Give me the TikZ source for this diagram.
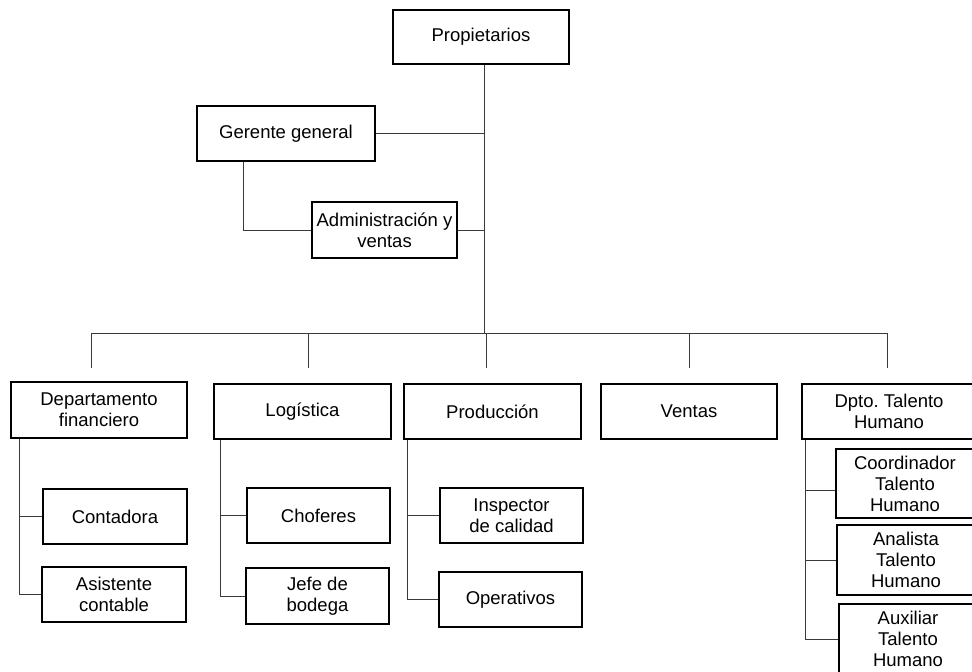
\documentclass[tikz,border=0pt]{standalone}
\usepackage{fontspec}
\setmainfont{Liberation Sans}
\usepackage{xcolor}
\usetikzlibrary{calc, positioning}
\definecolor{linegray}{HTML}{3A3A3A}
\newcommand{\boxfont}{\fontsize{18.5}{21}\selectfont}
\tikzset{
  unitbox/.style={draw, line width=1.4pt, inner sep=0pt, align=center, font=\boxfont},
  link/.style={draw=linegray, line width=1pt}
}

\begin{document}
\begin{tikzpicture}[x=1pt, y=-1pt]
                                \useasboundingbox (0,0) rectangle (972,672);
                                \clip (0,0) rectangle (972,672);

                                \node[unitbox, minimum width=176, minimum height=54] (prop) at (481, 37) {Propietarios};
                                \node[unitbox, minimum width=178, minimum height=55] (ger) at (286, 133.5) {Gerente general};
                                \node[unitbox, minimum width=145, minimum height=56] (adm) at (384.5, 230) {Administración y\\ventas};

                                \node[unitbox, minimum width=176, minimum height=56] (fin) at (99, 410) {Departamento\\financiero};
                                \node[unitbox, minimum width=177, minimum height=55] (log) at (302.5, 411.5) {Logística};
                                \node[unitbox, minimum width=177, minimum height=55] (prod) at (492.5, 411.5) {Producción};
                                \node[unitbox, minimum width=176, minimum height=55] (vent) at (689, 411.5) {Ventas};
                                \node[unitbox, minimum width=174, minimum height=55] (dpto) at (889, 411.5) {Dpto.\ Talento\\Humano};

                                \node[unitbox, minimum width=144, minimum height=55] (cont) at (115, 516.5) {Contadora};
                                \node[unitbox, minimum width=144, minimum height=55] (asis) at (114, 594.5) {Asistente\\contable};
                                \node[unitbox, minimum width=143, minimum height=55] (chof) at (318.5, 515.5) {Choferes};
                                \node[unitbox, minimum width=143, minimum height=56] (jefe) at (317.5, 596) {Jefe de\\bodega};
                                \node[unitbox, minimum width=143, minimum height=55] (insp) at (511.5, 515.5) {Inspector\\de calidad};
                                \node[unitbox, minimum width=143, minimum height=55] (oper) at (510.5, 599.5) {Operativos};
                                \node[unitbox, minimum width=138, minimum height=69] (coor) at (905, 483.5) {Coordinador\\Talento\\Humano};
                                \node[unitbox, minimum width=138, minimum height=70] (anal) at (906, 560) {Analista\\Talento\\Humano};
                                \node[unitbox, minimum width=138, minimum height=70] (aux) at (908, 639) {Auxiliar\\Talento\\Humano};

                                % trunk and branch bar
                                \coordinate (trunk) at (484, 333);
                                \coordinate (d1) at (91, 368);
                                \coordinate (d2) at (308, 368);
                                \coordinate (d3) at (486, 368);
                                \coordinate (d4) at (689, 368);
                                \coordinate (d5) at (887, 368);

                                \draw[link] (prop.south -| trunk) -- (trunk);
                                \draw[link] (ger.east) -- (ger.east -| trunk);
                                \draw[link] (adm.east) -- (adm.east -| trunk);
                                \draw[link] ([xshift=-43]ger.south) |- (adm.west);
                                \draw[link] (d1 |- trunk) -- (d5 |- trunk);
                                \foreach \d in {d1, d2, d3, d4, d5}
                                    \draw[link] (\d |- trunk) -- (\d);

                                % sub-units
                                \coordinate (finx) at ([xshift=9]fin.south west);
                                \coordinate (logx) at ([xshift=7]log.south west);
                                \coordinate (prodx) at ([xshift=4]prod.south west);
                                \coordinate (dptox) at ([xshift=4]dpto.south west);

                                \draw[link] (finx) |- (asis.west);
                                \draw[link] (cont.west) -- (cont.west -| finx);
                                \draw[link] (logx) |- (jefe.west);
                                \draw[link] (chof.west) -- (chof.west -| logx);
                                \draw[link] (prodx) |- (oper.west);
                                \draw[link] (insp.west) -- (insp.west -| prodx);
                                \draw[link] (dptox) |- (aux.west);
                                \draw[link] ([yshift=-7]coor.west) -- ([yshift=-7]coor.west -| dptox);
                                \draw[link] (anal.west) -- (anal.west -| dptox);
                            \end{tikzpicture}
\end{document}
